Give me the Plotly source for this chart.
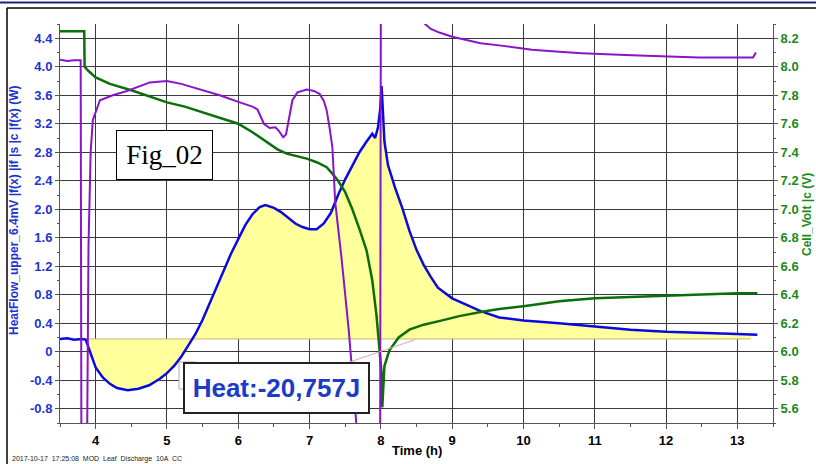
import plotly.graph_objects as go
import numpy as np

# ---------------- data ----------------
TIME_HEAT = [3.50, 3.60, 3.70, 3.80, 3.86, 3.90, 3.95, 4.00, 4.10, 4.20, 4.30, 4.45, 4.60, 4.75,
             4.90, 5.00, 5.10, 5.20, 5.30, 5.40, 5.50, 5.60, 5.70, 5.80, 5.90, 6.00, 6.10, 6.20,
             6.30, 6.38, 6.50, 6.60, 6.70, 6.80, 6.90, 7.00, 7.10, 7.20, 7.30, 7.40, 7.50, 7.60,
             7.70, 7.80, 7.88, 7.92, 7.96, 7.99, 8.01, 8.03, 8.05, 8.10, 8.20, 8.30, 8.40, 8.50,
             8.60, 8.70, 8.80, 9.00, 9.20, 9.40, 9.66, 10.00, 10.50, 11.00, 11.50, 12.00, 12.50,
             13.00, 13.28]
HEAT = [0.18, 0.19, 0.17, 0.18, 0.17, 0.05, -0.10, -0.22, -0.36, -0.45, -0.51, -0.54, -0.52, -0.47,
        -0.38, -0.30, -0.20, -0.07, 0.09, 0.25, 0.45, 0.68, 0.92, 1.15, 1.38, 1.58, 1.78, 1.93,
        2.03, 2.06, 2.02, 1.96, 1.88, 1.80, 1.75, 1.72, 1.72, 1.80, 1.95, 2.20, 2.42, 2.62,
        2.80, 2.95, 3.06, 3.00, 3.15, 3.40, 3.73, 3.35, 2.95, 2.62, 2.30, 2.02, 1.70, 1.43,
        1.22, 1.05, 0.90, 0.75, 0.66, 0.57, 0.48, 0.44, 0.40, 0.35, 0.31, 0.28, 0.26,
        0.25, 0.24]

TIME_VOLT = [3.50, 3.84, 3.845, 3.90, 4.00, 4.20, 4.50, 4.75, 5.00, 5.25, 5.50, 5.75, 6.00, 6.20,
             6.40, 6.55, 6.68, 6.80, 6.96, 7.10, 7.24, 7.32, 7.40, 7.50, 7.60, 7.70, 7.80, 7.88,
             7.94, 7.98, 8.01, 8.02, 8.03, 8.05, 8.12, 8.25, 8.40, 8.60, 8.86, 9.10, 9.42, 9.66,
             10.00, 10.50, 11.00, 11.50, 12.00, 12.50, 13.00, 13.28]
VOLT = [8.25, 8.25, 8.00, 7.97, 7.925, 7.88, 7.835, 7.79, 7.75, 7.72, 7.68, 7.645, 7.60, 7.54,
        7.47, 7.42, 7.39, 7.375, 7.355, 7.33, 7.295, 7.25, 7.20, 7.12, 7.00, 6.86, 6.71, 6.50,
        6.25, 6.02, 5.85, 5.61, 5.75, 5.90, 6.01, 6.10, 6.155, 6.19, 6.22, 6.25, 6.28, 6.30,
        6.32, 6.355, 6.375, 6.385, 6.395, 6.405, 6.41, 6.41]

TIME_AUX = [3.50, 3.60, 3.70, 3.79, 3.80, 3.87, 3.88, 3.90, 3.93, 3.96, 4.06, 4.24, 4.44, 4.76,
            5.00, 5.20, 5.46, 5.74, 6.02, 6.20, 6.27, 6.36, 6.44, 6.52, 6.57, 6.63, 6.67, 6.72,
            6.76, 6.83, 6.96, 7.06, 7.14, 7.20, 7.24, 7.28, 7.32, 7.36, 7.45, 7.55, 7.68, 7.99,
            8.00, 8.60, 8.62, 8.70, 8.82, 9.00, 9.20, 9.40, 9.66, 10.12, 10.50, 10.82, 11.52,
            12.00, 12.46, 13.00, 13.22, 13.26]
AUX = [4.10, 4.08, 4.09, 4.09, -1.3, -1.3, -1.3, 1.50, 2.80, 3.25, 3.53, 3.60, 3.66, 3.78,
       3.80, 3.76, 3.68, 3.60, 3.50, 3.44, 3.40, 3.20, 3.14, 3.15, 3.10, 3.01, 3.05, 3.35,
       3.53, 3.64, 3.68, 3.66, 3.62, 3.52, 3.39, 3.15, 2.87, 2.10, 1.30, 0.30, -1.3, -1.3,
       5.0, 5.0, 4.60, 4.53, 4.48, 4.42, 4.37, 4.33, 4.30, 4.24, 4.21, 4.19, 4.16,
       4.15, 4.13, 4.13, 4.13, 4.20]

BASELINE = 0.18
FILL_START, FILL_END = 3.87, 13.19
X_TICKS = [4, 5, 6, 7, 8, 9, 10, 11, 12, 13]
LEFT_TICKS = [-0.8, -0.4, 0, 0.4, 0.8, 1.2, 1.6, 2.0, 2.4, 2.8, 3.2, 3.6, 4.0, 4.4]
RIGHT_TICKS = [5.6, 5.8, 6.0, 6.2, 6.4, 6.6, 6.8, 7.0, 7.2, 7.4, 7.6, 7.8, 8.0, 8.2]
HEAT_LABEL = "Heat:-20,757J"
FIG_LABEL = "Fig_02"
FOOTER = "2017-10-17  17:25:08  MOD  Leaf  Discharge  10A  CC"

# ---------------- styles ----------------
BLUE = "#0a0ae0"
BLUE_TXT = "#1e32d2"
GREEN = "#0a6e0a"
GREEN_TXT = "#1a8a1a"
PURPLE = "#8a14c8"
YELLOW = "#ffff9c"
GRID = "#3a3a3a"
AXIS = "#555555"
SANS = "Liberation Sans, Arial, sans-serif"
SERIF = "Liberation Serif, Times New Roman, serif"

L, R, T, B = 60, 43, 24, 41
W, H = 816, 464
PW, PH = W - L - R, H - T - B


def px2x(px):
    return (px - L) / PW


def py2y(py):
    return 1 - (py - T) / PH


fx = [FILL_START] + [t for t in TIME_HEAT if FILL_START < t < FILL_END] + [FILL_END]
fy = list(np.interp(fx, TIME_HEAT, HEAT))

fig = go.Figure()
fig.add_trace(go.Scatter(x=fx, y=[BASELINE] * len(fx), mode="lines",
                         line=dict(color="#c8b870", width=1), hoverinfo="skip", showlegend=False))
fig.add_trace(go.Scatter(x=fx, y=fy, mode="lines", fill="tonexty", fillcolor=YELLOW,
                         line=dict(width=0), hoverinfo="skip", showlegend=False))
fig.add_trace(go.Scatter(x=TIME_HEAT, y=HEAT, mode="lines", name="HeatFlow",
                         line=dict(color=BLUE, width=2.5), showlegend=False))
fig.add_trace(go.Scatter(x=TIME_VOLT, y=VOLT, mode="lines", name="Cell_Volt", yaxis="y2",
                         line=dict(color=GREEN, width=2.5), showlegend=False))
fig.add_trace(go.Scatter(x=TIME_AUX, y=AUX, mode="lines", name="aux", yaxis="y3",
                         line=dict(color=PURPLE, width=2), showlegend=False))

left_text = ["0" if v == 0 else f"{v:.1f}" for v in LEFT_TICKS]
right_text = [f"{v:.1f}" for v in RIGHT_TICKS]
left_minor = [round(v + 0.2, 2) for v in LEFT_TICKS] + [-1.0]
right_minor = [round(v + 0.1, 2) for v in RIGHT_TICKS] + [5.5]
x_minor = [v + 0.5 for v in X_TICKS] + [3.5]

fig.update_layout(
    width=W, height=H,
    margin=dict(l=L, r=R, t=T, b=B),
    paper_bgcolor="white", plot_bgcolor="white",
    showlegend=False,
    xaxis=dict(range=[3.5, 13.5], tickmode="array", tickvals=X_TICKS,
               ticktext=[str(v) for v in X_TICKS],
               tickfont=dict(family=SANS, size=13, color="black", weight="bold"),
               ticks="outside", ticklen=5, tickcolor=AXIS, showline=True, linecolor=AXIS,
               linewidth=1, showgrid=True, gridcolor=GRID, gridwidth=1, zeroline=False,
               minor=dict(tickmode="array", tickvals=x_minor, ticks="outside", ticklen=3,
                          tickcolor=AXIS, showgrid=False)),
    yaxis=dict(range=[-1.0, 4.6], tickmode="array", tickvals=LEFT_TICKS, ticktext=left_text,
               tickfont=dict(family=SANS, size=13, color=BLUE_TXT, weight="bold"),
               ticks="outside", ticklen=4, tickcolor=AXIS, showline=True, linecolor=AXIS,
               linewidth=1, showgrid=True, gridcolor=GRID, gridwidth=1, zeroline=False,
               minor=dict(tickmode="array", tickvals=left_minor, ticks="outside", ticklen=2,
                          tickcolor=AXIS, showgrid=False)),
    yaxis2=dict(range=[5.5, 8.3], overlaying="y", side="right", tickmode="array",
                tickvals=RIGHT_TICKS, ticktext=right_text,
                tickfont=dict(family=SANS, size=13, color=GREEN_TXT, weight="bold"),
                ticks="outside", ticklen=4, tickcolor=AXIS, showline=True, linecolor=AXIS,
                linewidth=1, showgrid=False, zeroline=False,
                minor=dict(tickmode="array", tickvals=right_minor, ticks="outside", ticklen=2,
                           tickcolor=AXIS, showgrid=False)),
    yaxis3=dict(range=[-1.0, 4.6], overlaying="y", visible=False),
)

shapes = [
    # outer frame
    dict(type="line", xref="paper", yref="paper", x0=px2x(0), x1=px2x(W), y0=py2y(2.5), y1=py2y(2.5),
         line=dict(color="#1a237e", width=2)),
    dict(type="line", xref="paper", yref="paper", x0=px2x(7), x1=px2x(W), y0=py2y(8), y1=py2y(8),
         line=dict(color="black", width=1.5)),
    dict(type="line", xref="paper", yref="paper", x0=px2x(7), x1=px2x(7), y0=py2y(8), y1=py2y(H),
         line=dict(color="black", width=1.5)),
    # heat integration connector
    dict(type="line", xref="x", yref="y", x0=7.4, x1=8.48, y0=-0.2, y1=0.17,
         line=dict(color="#d8a8a8", width=1), layer="above"),
    # hidden small label box behind heat label
    dict(type="rect", xref="paper", yref="paper", x0=px2x(179), x1=px2x(196), y0=py2y(389), y1=py2y(362),
         line=dict(color="#aaaaaa", width=1), fillcolor="white", layer="above"),
]
fig.update_layout(shapes=shapes)

annotations = [
    dict(text=FIG_LABEL, xref="paper", yref="paper", x=px2x(164.5), y=py2y(155),
         xanchor="center", yanchor="middle", showarrow=False, width=95, height=48,
         bgcolor="white", bordercolor="black", borderwidth=1, borderpad=0,
         font=dict(family=SERIF, size=27, color="black")),
    dict(text=HEAT_LABEL, xref="paper", yref="paper", x=px2x(276.5), y=py2y(388),
         xanchor="center", yanchor="middle", showarrow=False, width=183, height=48,
         bgcolor="white", bordercolor="#222222", borderwidth=2, borderpad=0,
         font=dict(family=SANS, size=26, color="#1a3cc8", weight="bold")),
    dict(text="HeatFlow_upper_6.4mV |f(x) |if |s |c |f(x) (W)", xref="paper", yref="paper",
         x=px2x(14), y=py2y(210), xanchor="center", yanchor="middle", textangle=-90,
         showarrow=False, font=dict(family=SANS, size=12, color=BLUE_TXT, weight="bold")),
    dict(text="Cell_Volt |c (V)", xref="paper", yref="paper",
         x=px2x(807), y=py2y(215), xanchor="center", yanchor="middle", textangle=-90,
         showarrow=False, font=dict(family=SANS, size=12, color=GREEN_TXT, weight="bold")),
    dict(text="Time (h)", xref="paper", yref="paper", x=px2x(417), y=py2y(450),
         xanchor="center", yanchor="middle", showarrow=False,
         font=dict(family=SANS, size=13, color="black", weight="bold")),
    dict(text=FOOTER, xref="paper", yref="paper", x=px2x(10), y=py2y(459),
         xanchor="left", yanchor="middle", showarrow=False,
         font=dict(family=SANS, size=7, color="#222222")),
]
fig.update_layout(annotations=annotations)

fig.write_html("out.html", config={"displayModeBar": False},
               post_script="document.body.style.margin='0';document.body.style.overflow='hidden';")
